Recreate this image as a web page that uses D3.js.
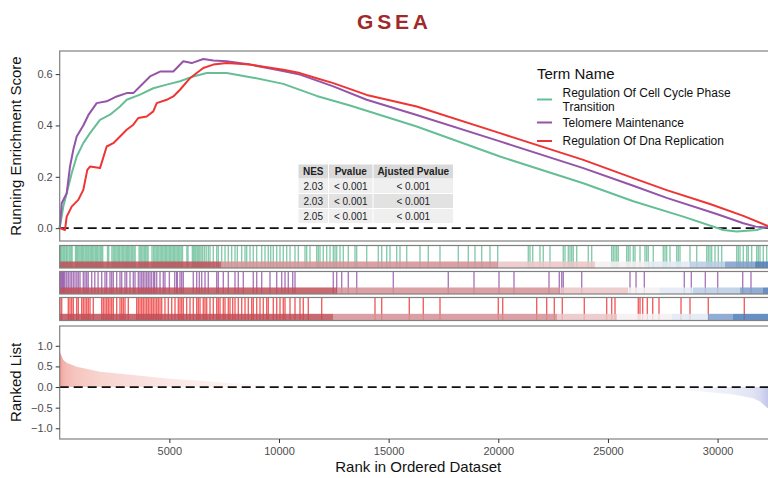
<!DOCTYPE html>
<html>
<head>
<meta charset="utf-8">
<script src="https://cdn.jsdelivr.net/npm/d3@7"></script>
<style>
  body { margin: 0; background: #fff; }
  svg { display: block; font-family: "Liberation Sans", Arial, sans-serif; }
</style>
</head>
<body>
<div id="gsea"></div>
<script>
// ---- data ----
var terms = ["Regulation Of Cell Cycle Phase Transition", "Telomere Maintenance", "Regulation Of Dna Replication"];
var termColors = ["#66BE96", "#9454A8", "#EE3535"];
var nes = ["2.03", "2.03", "2.05"];
var pvalues = ["< 0.001", "< 0.001", "< 0.001"];
var adjPvalues = ["< 0.001", "< 0.001", "< 0.001"];
var tableHeader = ["NES", "Pvalue", "Ajusted Pvalue"];
var nGenes = 32700;

var cellCycleRank = [0, 164, 319, 547, 775, 1076, 1382, 1838, 2294, 2750, 3055, 3662, 4268, 4879, 5486, 6092, 6703, 7615, 8828, 10196, 11719, 13237, 16279, 20077, 23876, 26156, 28436, 30260, 30871, 31783, 32298, 32700];
var cellCycleES = [0, 0.084, 0.136, 0.214, 0.279, 0.331, 0.370, 0.422, 0.442, 0.474, 0.500, 0.520, 0.545, 0.559, 0.572, 0.591, 0.604, 0.604, 0.586, 0.562, 0.515, 0.478, 0.396, 0.279, 0.175, 0.105, 0.045, -0.007, -0.013, -0.007, 0.006, 0];

var telomereRank = [0, 91, 319, 470, 620, 775, 1076, 1304, 1687, 2143, 2599, 3055, 3356, 3662, 4118, 4574, 5180, 5636, 6019, 6548, 7004, 7615, 8678, 9895, 10958, 12476, 13999, 16279, 20077, 23876, 26156, 27679, 29959, 31172, 31751, 32300, 32700];
var telomereES = [0, 0.097, 0.136, 0.24, 0.305, 0.357, 0.40, 0.44, 0.487, 0.494, 0.513, 0.526, 0.526, 0.552, 0.591, 0.61, 0.61, 0.65, 0.643, 0.659, 0.653, 0.65, 0.637, 0.617, 0.598, 0.552, 0.50, 0.441, 0.338, 0.234, 0.165, 0.118, 0.055, 0.019, 0.006, 0.002, 0];

var dnaRepRank = [0, 242, 319, 547, 848, 1076, 1259, 1382, 1838, 2143, 2444, 2750, 3055, 3356, 3584, 3967, 4268, 4423, 4879, 5180, 5486, 5942, 6247, 6548, 7004, 7615, 8678, 10196, 10958, 11719, 12476, 13999, 16279, 20077, 23876, 26311, 27679, 29653, 31172, 32298, 32700];
var dnaRepES = [0, -0.007, 0.045, 0.084, 0.11, 0.149, 0.227, 0.24, 0.234, 0.318, 0.331, 0.357, 0.383, 0.403, 0.429, 0.435, 0.455, 0.487, 0.50, 0.513, 0.539, 0.584, 0.604, 0.624, 0.637, 0.643, 0.637, 0.617, 0.604, 0.584, 0.565, 0.519, 0.474, 0.37, 0.266, 0.19, 0.148, 0.094, 0.048, 0.008, 0];

// gene hit positions in the ranked list
var cellCycleHits = [10, 45, 95, 150, 195, 240, 300, 345, 420, 470, 520, 565, 720, 770, 820, 875, 930, 990, 1045, 1100, 1160, 1215, 1280, 1330, 1390, 1445, 1500, 1560, 1620, 1675, 1730, 1790, 1850, 1905, 1960, 2180, 2235, 2380, 2440, 2500, 2560, 2620, 2680, 2735, 2800, 2860, 2920, 2980, 3040, 3095, 3150, 3205, 3270, 3330, 3390, 3440, 3620, 3675, 3740, 3800, 3860, 3920, 3980, 4030, 4210, 4280, 4340, 4400, 4460, 4520, 4580, 4640, 4700, 4760, 4820, 4880, 4940, 5000, 5060, 5120, 5180, 5240, 5300, 5360, 5420, 5480, 5540, 5600, 5800, 5850, 6050, 6100, 6160, 6210, 6270, 6330, 6390, 6450, 6520, 6600, 6680,
  6776, 6854, 7004, 7159, 7232, 7387, 7538, 7688, 7843, 7994, 8099, 8299, 8450, 8527, 8678, 8828, 8983, 9211, 9362, 9512, 9622, 9740, 9895, 10046, 10196, 10351, 10502, 10730, 10880, 11186, 11263, 11414, 11719, 11792, 11870, 12020, 12175, 12326, 12476, 12554, 12631, 12782, 12932, 13160, 13466, 13543, 13999, 14528, 14683, 14911, 15062, 15367, 15518, 15823, 16430, 16808, 17342, 18176, 18632, 18938, 19243, 19622, 19973,
  21368, 21446, 21569, 21902, 22052, 22358, 22964, 23042, 23192, 23270, 23347, 23420, 23575, 24104, 24259, 25171, 25244, 25322, 25399, 25472, 25855, 25928, 26006, 26156, 26234, 26462, 26690, 26767, 26840, 27068, 27524, 27602, 27679, 27830, 28135, 28208, 28286, 28742, 29047, 29503, 29576, 29654, 29731, 29882, 30032, 30187, 30871, 30944, 31022, 31172, 31327, 31400, 31555, 31783, 31856, 31934, 32084, 32239];
var telomereHits = [14, 30, 91, 120, 164, 200, 242, 320, 392, 470, 540, 620, 698, 780, 850, 926, 1076, 1154, 1231, 1300, 1459, 1600, 1750, 1915, 2066, 2143, 2294, 2371, 2444, 2599, 2750, 2827, 2978, 3055, 3206, 3356, 3434, 3584, 3662, 3739, 3812, 3890, 3967, 4040, 4118, 4195, 4286, 4332, 4423, 4574, 4724, 4800, 5000, 5245, 5335, 5363, 5486, 5563, 5636, 6092, 6247, 6366, 6475, 6626, 6776, 7159, 7232, 7460, 7688, 7994, 8144, 8372, 8828, 8983, 9211, 9590, 9895, 10123, 10274, 10424, 10625, 10730, 12476, 12631, 12859, 13160, 13543, 15212, 17720, 18892, 20032, 20716, 22312, 22782, 22891, 22964, 23803, 26006, 26281, 26659, 28482, 28802, 29441, 30005, 31145, 31523];
var dnaRepHits = [14, 91, 392, 470, 547, 620, 775, 848, 1003, 1076, 1154, 1231, 1304, 1382, 1532, 1915, 1988, 2066, 2143, 2216, 2294, 2371, 2444, 2599, 2750, 2827, 2900, 2978, 3128, 3511, 3584, 3662, 3739, 3812, 3890, 3967, 4040, 4118, 4195, 4268, 4346, 4423, 4496, 4574, 4651, 4800, 4952, 5107, 5258, 5408, 5486, 5563, 5636, 5791, 5942, 6092, 6247, 6320, 6398, 6548, 6626, 6703, 6854, 7004, 7159, 7232, 7310, 7460, 7538, 7688, 7766, 7889, 7994, 8144, 8299, 8450, 8600, 8755, 8828, 8983, 9134, 9284, 9439, 9512, 9740, 9895, 10046, 10196, 10274, 10502, 10730, 10958, 11108, 11336, 11947, 14378, 14683, 15942, 16580, 17342, 20000, 20201, 21751, 22207, 22554, 22919, 23922, 24943, 25171, 25322, 26384, 26462, 26585, 26795, 27041, 27328, 28332, 28742, 29576, 31218];

// rank colour bar under each strip: start rank of each band and its shade
var bandShades = ["#BF4F57", "#D58F94", "#EBC4C6", "#F4EEF0", "#E2E9F3", "#B9CBE4", "#7F9FCB", "#4E7BB6"];
var cellCycleBands = [0, 7355, 19986, 24410, 26826, 28742, 30338, 31706];
var cellCycleShade = [0, 1, 2, 3, 4, 5, 6, 7];
var telomereBands = [0, 12645, 22814, 25915, 27350, 28879, 31022, 32071];
var telomereShade = [0, 1, 2, 3, 4, 5, 6, 7];
var dnaRepBands = [0, 12463, 22677, 25413, 27921, 29563, 30703];
var dnaRepShade = [0, 1, 2, 3, 4, 6, 7];

// ranked list metric
var rankedPos = [0, 164, 319, 775, 1838, 3356, 4879, 6400, 7915, 9438, 10958, 12500, 24000, 26000, 27679, 29197, 30716, 31628, 31933, 32298, 32500, 32700];
var rankedMetric = [0.855, 0.654, 0.59, 0.49, 0.37, 0.29, 0.21, 0.15, 0.09, 0.04, 0.01, 0, 0, -0.015, -0.04, -0.1, -0.18, -0.27, -0.35, -0.52, -0.7, -1.0];

var rankTicks = [5000, 10000, 15000, 20000, 25000, 30000];
var esTicks = [0, 0.2, 0.4, 0.6];
var metricTicks = [-1, -0.5, 0, 0.5, 1];

// ---- layout ----
var W = 768, H = 478;
var svg = d3.select("#gsea").append("svg").attr("width", W).attr("height", H);

var x = d3.scaleLinear().domain([0, nGenes]).range([59.7, 776.8]);
var esY = d3.scaleLinear().domain([-0.05, 0.69]).range([241, 51]);
var metY = d3.scaleLinear().domain([-1.26, 1.48]).range([439, 326]);
var xLeft = x.range()[0], xRight = x.range()[1];
var borderCol = "#808080";

var series = [
  {rank: cellCycleRank, es: cellCycleES, hits: cellCycleHits, bands: cellCycleBands, shade: cellCycleShade, y0: 245.5, y1: 268},
  {rank: telomereRank, es: telomereES, hits: telomereHits, bands: telomereBands, shade: telomereShade, y0: 271.5, y1: 294},
  {rank: dnaRepRank, es: dnaRepES, hits: dnaRepHits, bands: dnaRepBands, shade: dnaRepShade, y0: 297.5, y1: 320.5}
];

// title
svg.append("text")
  .attr("x", 357).attr("y", 29)
  .style("font-size", "21px").style("font-weight", "bold")
  .style("letter-spacing", "3.8px").style("fill", "#9E2A2B")
  .text("GSEA");

// ---- running enrichment score panel ----
var esPanel = svg.append("g");

var line = d3.line().x(function(d) { return x(d[0]); }).y(function(d) { return esY(d[1]); });

esPanel.append("line")
  .attr("x1", xLeft).attr("x2", xRight).attr("y1", esY(0)).attr("y2", esY(0))
  .attr("stroke", "#111").attr("stroke-width", 1.8).attr("stroke-dasharray", "9,5");

series.forEach(function(s, i) {
  esPanel.append("path")
    .datum(d3.zip(s.rank, s.es))
    .attr("d", line)
    .attr("fill", "none")
    .attr("stroke", termColors[i])
    .attr("stroke-width", 2)
    .attr("stroke-linejoin", "round");
});

esPanel.append("rect").attr("x", xLeft).attr("y", 51).attr("width", xRight - xLeft).attr("height", 190)
  .attr("fill", "none").attr("stroke", borderCol).attr("stroke-width", 1.2);

var esAxis = d3.axisLeft(esY).tickValues(esTicks).tickSize(4).tickPadding(3).tickFormat(d3.format(".1f"));
var gEs = svg.append("g").attr("transform", "translate(" + xLeft + ",0)").call(esAxis);

// stats table
var colX = [298.5, 329, 373.5], colW = [29.5, 43.5, 79.5];
var rowY = [164.5, 179, 194, 209], rowH = 14;
var rowFill = ["#D9D9D9", "#EFEFEF", "#E2E2E2", "#EFEFEF"];
var tableRows = [tableHeader].concat(d3.range(nes.length).map(function(i) {
  return [nes[i], pvalues[i], adjPvalues[i]];
}));
var table = svg.append("g");
tableRows.forEach(function(row, r) {
  row.forEach(function(cell, c) {
    table.append("rect")
      .attr("x", colX[c]).attr("y", rowY[r]).attr("width", colW[c]).attr("height", rowH)
      .attr("fill", rowFill[r]);
    table.append("text")
      .attr("x", colX[c] + colW[c] / 2).attr("y", rowY[r] + rowH / 2 + 3.6)
      .attr("text-anchor", "middle")
      .style("font-size", "10px")
      .style("font-weight", r === 0 ? "bold" : "normal")
      .style("fill", "#222")
      .text(cell);
  });
});

// legend
var legend = svg.append("g");
legend.append("text").attr("x", 537).attr("y", 78.5).style("font-size", "15px").style("fill", "#111").text("Term Name");
var legendLines = [["Regulation Of Cell Cycle Phase", "Transition"], ["Telomere Maintenance"], ["Regulation Of Dna Replication"]];
var keyY = [99.5, 122.5, 141];
var lineGap = 13.6;
legendLines.forEach(function(lines, i) {
  legend.append("line").attr("x1", 537).attr("x2", 552).attr("y1", keyY[i]).attr("y2", keyY[i])
    .attr("stroke", termColors[i]).attr("stroke-width", 2);
  var t = legend.append("text").attr("x", 562.5).attr("y", keyY[i] - (lines.length - 1) * lineGap / 2 + 4.2)
    .style("font-size", "12px").style("fill", "#111");
  lines.forEach(function(l, k) {
    t.append("tspan").attr("x", 562.5).attr("dy", k === 0 ? 0 : lineGap).text(l);
  });
});

// ---- hit strips ----
series.forEach(function(s, i) {
  var g = svg.append("g");
  var bandTop = s.y1 - 0.29 * (s.y1 - s.y0);
  g.selectAll("line.hit").data(s.hits).enter().append("line")
    .attr("class", "hit")
    .attr("x1", function(d) { return x(d); })
    .attr("x2", function(d) { return x(d); })
    .attr("y1", s.y0).attr("y2", s.y1)
    .attr("stroke", termColors[i]).attr("stroke-width", 1.4).attr("stroke-opacity", 0.78);
  g.selectAll("rect.band").data(s.bands).enter().append("rect")
    .attr("class", "band")
    .attr("x", function(d) { return x(d); })
    .attr("width", function(d, k) { return x(k + 1 < s.bands.length ? s.bands[k + 1] : nGenes) - x(d); })
    .attr("y", bandTop).attr("height", s.y1 - bandTop)
    .attr("fill", function(d, k) { return bandShades[s.shade[k]]; })
    .attr("fill-opacity", 0.85);
  g.append("rect").attr("x", xLeft).attr("y", s.y0).attr("width", xRight - xLeft).attr("height", s.y1 - s.y0)
    .attr("fill", "none").attr("stroke", borderCol).attr("stroke-width", 1.2);
});

// ---- ranked list panel ----
var metColor = d3.scaleLinear().domain([-1, 0, 1]).range(["#8C96D4", "#ffffff", "#EC8A7E"]);
var defs = svg.append("defs");
var grad = defs.append("linearGradient").attr("id", "rankGrad")
  .attr("gradientUnits", "userSpaceOnUse")
  .attr("x1", xLeft).attr("x2", xRight).attr("y1", 0).attr("y2", 0);
rankedPos.forEach(function(p, i) {
  grad.append("stop").attr("offset", (x(p) - xLeft) / (xRight - xLeft)).attr("stop-color", metColor(rankedMetric[i]));
});

var rankPanel = svg.append("g");
var area = d3.area()
  .x(function(d) { return x(d[0]); })
  .y0(metY(0))
  .y1(function(d) { return metY(d[1]); });
rankPanel.append("path").datum(d3.zip(rankedPos, rankedMetric)).attr("d", area).attr("fill", "url(#rankGrad)");
rankPanel.append("line")
  .attr("x1", xLeft).attr("x2", xRight).attr("y1", metY(0)).attr("y2", metY(0))
  .attr("stroke", "#111").attr("stroke-width", 1.8).attr("stroke-dasharray", "9,5");
rankPanel.append("rect").attr("x", xLeft).attr("y", 326).attr("width", xRight - xLeft).attr("height", 113)
  .attr("fill", "none").attr("stroke", borderCol).attr("stroke-width", 1.2);

var metAxis = d3.axisLeft(metY).tickValues(metricTicks).tickSize(4).tickPadding(3).tickFormat(d3.format(".1f"));
var gMet = svg.append("g").attr("transform", "translate(" + xLeft + ",0)").call(metAxis);
var rankAxis = d3.axisBottom(x).tickValues(rankTicks).tickSize(4).tickPadding(4).tickFormat(d3.format("d"));
var gRank = svg.append("g").attr("transform", "translate(0,439)").call(rankAxis);

[gEs, gMet, gRank].forEach(function(g) {
  g.select(".domain").remove();
  g.selectAll(".tick line").attr("stroke", "#333").attr("stroke-width", 1);
  g.selectAll(".tick text").attr("fill", "#4D4D4D").style("font-size", "11px")
    .style("font-family", "'Liberation Sans', Arial, sans-serif");
});

// axis titles
svg.append("text").attr("transform", "translate(21,146) rotate(-90)").attr("text-anchor", "middle")
  .style("font-size", "15px").style("fill", "#111").text("Running Enrichment Score");
svg.append("text").attr("transform", "translate(21,382.5) rotate(-90)").attr("text-anchor", "middle")
  .style("font-size", "15px").style("fill", "#111").text("Ranked List");
svg.append("text").attr("x", (xLeft + xRight) / 2).attr("y", 472).attr("text-anchor", "middle")
  .style("font-size", "15px").style("fill", "#111").text("Rank in Ordered Dataset");
</script>
</body>
</html>
